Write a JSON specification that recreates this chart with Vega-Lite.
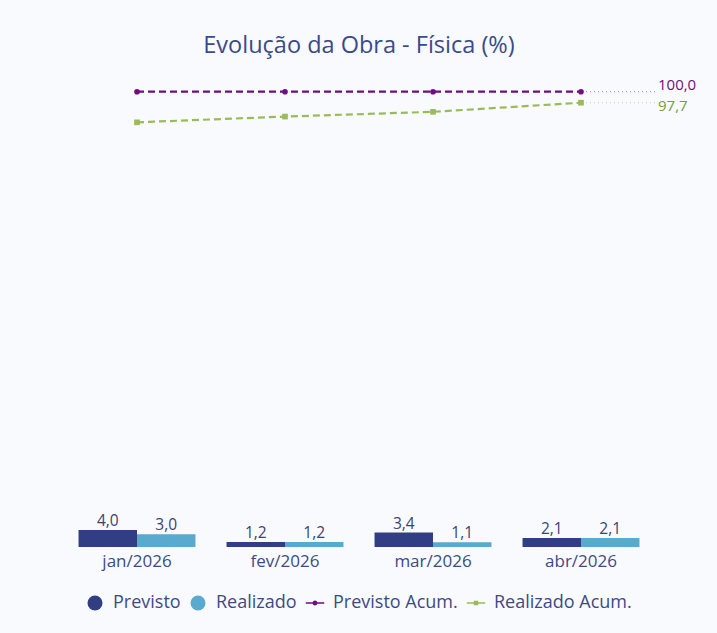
{
  "$schema": "https://vega.github.io/schema/vega-lite/v6.json",
  "width": 592,
  "height": 467,
  "autosize": {"type": "none"},
  "padding": {"left": 63, "top": 80, "right": 62, "bottom": 86},
  "background": "#f8fafd",
  "config": {
    "font": "Open Sans",
    "view": {"stroke": null},
    "legend": {"layout": {"bottom": {"anchor": "middle"}}},
    "locale": {"number": {"decimal": ",", "thousands": ".", "grouping": [3], "currency": ["R$ ", ""]}}
  },
  "title": {
    "text": "Evolução da Obra - Física (%)",
    "fontSize": 23.5,
    "fontWeight": "normal",
    "color": "#3a4a8c",
    "anchor": "middle",
    "offset": 20
  },
  "datasets": {
    "mensal": [
      {"mes": "jan/2026", "serie": "Previsto", "valor": 4.0},
      {"mes": "jan/2026", "serie": "Realizado", "valor": 3.0},
      {"mes": "fev/2026", "serie": "Previsto", "valor": 1.2},
      {"mes": "fev/2026", "serie": "Realizado", "valor": 1.2},
      {"mes": "mar/2026", "serie": "Previsto", "valor": 3.4},
      {"mes": "mar/2026", "serie": "Realizado", "valor": 1.1},
      {"mes": "abr/2026", "serie": "Previsto", "valor": 2.1},
      {"mes": "abr/2026", "serie": "Realizado", "valor": 2.1}
    ],
    "acum": [
      {"mes": "jan/2026", "serie": "Previsto Acum.", "valor": 100.0},
      {"mes": "fev/2026", "serie": "Previsto Acum.", "valor": 100.0},
      {"mes": "mar/2026", "serie": "Previsto Acum.", "valor": 100.0},
      {"mes": "abr/2026", "serie": "Previsto Acum.", "valor": 100.0},
      {"mes": "jan/2026", "serie": "Realizado Acum.", "valor": 93.6},
      {"mes": "fev/2026", "serie": "Realizado Acum.", "valor": 94.8},
      {"mes": "mar/2026", "serie": "Realizado Acum.", "valor": 95.8},
      {"mes": "abr/2026", "serie": "Realizado Acum.", "valor": 97.7}
    ]
  },
  "encoding": {
    "x": {
      "field": "mes",
      "type": "nominal",
      "sort": ["jan/2026", "fev/2026", "mar/2026", "abr/2026"],
      "scale": {"paddingInner": 0.21, "paddingOuter": 0.105},
      "axis": {
        "title": null,
        "domain": false,
        "ticks": false,
        "grid": false,
        "labelAngle": 0,
        "labelFontSize": 17,
        "labelColor": "#3d4a86",
        "labelPadding": 6
      }
    }
  },
  "layer": [
    {
      "data": {"name": "mensal"},
      "encoding": {
        "xOffset": {"field": "serie", "type": "nominal", "sort": ["Previsto", "Realizado"], "scale": {"paddingInner": 0, "paddingOuter": 0}},
        "y": {"field": "valor", "type": "quantitative", "scale": {"domain": [0, 110], "nice": false}, "axis": null}
      },
      "layer": [
        {
          "mark": {"type": "bar"},
          "encoding": {
            "color": {
              "field": "serie",
              "type": "nominal",
              "scale": {
                "domain": ["Previsto", "Realizado", "Previsto Acum.", "Realizado Acum."],
                "range": ["#323e84", "#5aa9cf", "#6e0e80", "#9bbb59"]
              },
              "legend": {
                "title": null,
                "orient": "bottom",
                "direction": "horizontal",
                "labelFontSize": 18,
                "labelColor": "#3d4a86",
                "symbolSize": 225,
                "labelOffset": 9,
                "columnPadding": 8,
                "offset": 25,
                "encode": {
                  "symbols": {
                    "update": {
                      "shape": {"signal": "(datum.value === 'Previsto' || datum.value === 'Realizado') ? 'circle' : (datum.value === 'Previsto Acum.' ? 'M-1.23,-0.1H1.23V0.1H-1.23Z M0.33,0A0.33,0.33 0 1,1 -0.33,0A0.33,0.33 0 1,1 0.33,0Z' : 'M-1.23,-0.1H1.23V0.1H-1.23Z M-0.3,-0.3H0.3V0.3H-0.3Z')"},
                      "fill": {"signal": "scale('color', datum.value)"},
                      "stroke": {"value": "transparent"},
                      "strokeWidth": {"value": 0},
                      "opacity": {"value": 1},
                      "fillOpacity": {"value": 1}
                    }
                  }
                }
              }
            }
          }
        },
        {
          "mark": {"type": "text", "baseline": "bottom", "dy": -1, "fontSize": 15.5, "color": "#3d4172"},
          "encoding": {
            "text": {"field": "valor", "type": "quantitative", "format": ".1f"}
          }
        }
      ]
    },
    {
      "data": {"name": "acum"},
      "encoding": {
        "y": {"field": "valor", "type": "quantitative", "scale": {"domain": [4.8, 102.45], "nice": false, "zero": false}, "axis": null}
      },
      "layer": [
        {
          "mark": {"type": "line", "strokeDash": [7, 4], "strokeWidth": 2.2},
          "encoding": {
            "color": {"field": "serie", "type": "nominal"}
          }
        },
        {
          "mark": {"type": "point", "filled": true, "size": 32, "opacity": 1},
          "encoding": {
            "color": {"field": "serie", "type": "nominal"},
            "shape": {"field": "serie", "type": "nominal", "scale": {"domain": ["Previsto Acum.", "Realizado Acum."], "range": ["circle", "square"]}, "legend": null}
          }
        },
        {
          "transform": [{"filter": "datum.mes === 'abr/2026'"}],
          "mark": {"type": "rule", "strokeDash": [1, 3], "opacity": 0.45, "strokeWidth": 1.2, "xOffset": 5, "x2Offset": 74},
          "encoding": {
            "x2": {"field": "mes"},
            "color": {"field": "serie", "type": "nominal"}
          }
        },
        {
          "transform": [{"filter": "datum.mes === 'abr/2026' && datum.serie === 'Previsto Acum.'"}],
          "mark": {"type": "text", "align": "left", "baseline": "middle", "dx": 77, "dy": -7, "fontSize": 15, "color": "#6e0e80"},
          "encoding": {"text": {"field": "valor", "type": "quantitative", "format": ".1f"}}
        },
        {
          "transform": [{"filter": "datum.mes === 'abr/2026' && datum.serie === 'Realizado Acum.'"}],
          "mark": {"type": "text", "align": "left", "baseline": "middle", "dx": 77, "dy": 3, "fontSize": 15, "color": "#7a9a3e"},
          "encoding": {"text": {"field": "valor", "type": "quantitative", "format": ".1f"}}
        }
      ]
    }
  ],
  "resolve": {"scale": {"y": "independent"}}
}
